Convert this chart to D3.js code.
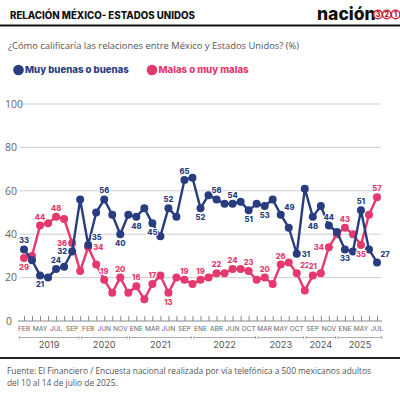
<!DOCTYPE html>
<html lang="es">
<head>
<meta charset="utf-8">
<title>Relación México - Estados Unidos</title>
<script src="https://d3js.org/d3.v7.min.js"></script>
<style>
body { margin: 0; background: #fff; }
text { font-family: Inter, "Noto Sans", sans-serif; }
</style>
</head>
<body>
<div id="chart"></div>
<script>

// month label under every second survey, blank between
var months = ["FEB","","MAY","","JUL","","SEP","","FEB","","JUN","","NOV","","ENE","","MAR","","JUN","","SEP","",
              "ENE","","ABR","","JUN","","OCT","","MAR","","MAY","","OCT","","SEP","","NOV","","ENE","","MAY","","JUL"];
var years = ["2019","2020","2021","2022","2023","2024","2025"];
var yearStart = [0, 7, 13, 21, 29, 35, 39];   // survey index where each year bracket begins
var yTicks = [0, 20, 40, 60, 80, 100];

var buenas = [33,28,21,20,24,25,32,56,35,50,56,49,40,49,48,52,45,39,52,48,65,66,52,58,56,54,54,55,51,54,
              53,56,49,43,31,61,48,53,44,41,33,32,51,33,27];
var malas  = [29,30,44,45,48,47,36,23,34,26,19,13,20,13,16,10,17,21,13,20,19,17,19,20,22,22,24,24,23,19,
              20,17,26,27,22,14,21,22,34,40,43,40,35,49,57];

// where the value label sits for each labelled (even) survey: t top, b bottom, l left, r right, tr top-right
var buenasPos = ["t","b","t","l","tr","t","b","b","b","t","t","b","t","t","b","b","tr","r","b","t","b","t","tr"];
var malasPos  = ["b","t","t","l","r","t","t","t","t","b","t","t","t","t","t","t","t","tr","t","l","t","b","t"];

var w = 400, h = 394;
var navy = "#283c80", pink = "#e5386c";

var svg = d3.select("#chart").append("svg")
  .attr("width", w).attr("height", h);

// HEADER
svg.append("text").text("RELACIÓN MÉXICO- ESTADOS UNIDOS")
  .attr("x", 10).attr("y", 18.5)
  .style("font-size", "9.7px").style("font-weight", 800).attr("fill", "#111");

svg.append("text").text("nación")
  .attr("x", 317).attr("y", 20)
  .style("font-size", "17.5px").style("font-weight", 800).attr("fill", "#111");
["3","2","1"].forEach(function(d, i) {
  var cx = 378 + i * 8.8;
  svg.append("circle").attr("cx", cx).attr("cy", 14.5).attr("r", 4.3)
    .attr("fill", "#fff").attr("stroke", "#d8213e").attr("stroke-width", 1.5);
  svg.append("text").text(d).attr("x", cx).attr("y", 17)
    .attr("text-anchor", "middle")
    .style("font-size", "7px").style("font-weight", 800).attr("fill", "#a8182f");
});

svg.append("line").attr("x1", 0).attr("x2", w).attr("y1", 25.5).attr("y2", 25.5)
  .attr("stroke", "#111").attr("stroke-width", 2);

svg.append("text").text("¿Cómo calificaría las relaciones entre México y Estados Unidos?  (%)")
  .attr("x", 8).attr("y", 49)
  .style("font-family", "'Open Sans', sans-serif")
  .style("font-size", "9.4px").attr("fill", "#555");

// LEGEND
var legend = [["Muy buenas o buenas", navy, 18.5], ["Malas o muy malas", pink, 152]];
legend.forEach(function(d) {
  svg.append("circle").attr("cx", d[2]).attr("cy", 70).attr("r", 5.3).attr("fill", d[1]);
  svg.append("text").text(d[0]).attr("x", d[2] + 6.5).attr("y", 73.4)
    .style("font-size", "9.6px").style("font-weight", 800).attr("fill", d[1]);
});

// SCALES
var x = d3.scaleLinear().domain([0, buenas.length - 1]).range([24, 377]);
var y = d3.scaleLinear().domain([0, 100]).range([321, 104]);

// GRID
var grid = svg.append("g");
grid.selectAll("line").data(yTicks.filter(function(d) { return d > 0; })).enter()
  .append("line")
  .attr("x1", 20).attr("x2", 381)
  .attr("y1", function(d) { return y(d); }).attr("y2", function(d) { return y(d); })
  .attr("stroke", "#cfcfcf").attr("stroke-width", 1);
grid.selectAll("text").data(yTicks).enter()
  .append("text").text(function(d) { return d; })
  .attr("x", function(d) { return d === 0 ? 6 : 5; })
  .attr("y", function(d) { return y(d) + 3.8; })
  .style("font-family", "'Open Sans', sans-serif")
  .style("font-size", "10.5px").attr("fill", "#666");

// X AXIS (ticks pointing up from the zero line)
var idx = d3.range(buenas.length);
var xAxis = d3.axisTop(x).tickValues(idx).tickSize(5).tickFormat("");
var gx = svg.append("g").attr("transform", "translate(0," + y(0) + ")").call(xAxis);
gx.select(".domain").attr("d", "M18,0H382").attr("stroke", "#888");
gx.selectAll(".tick line").attr("stroke", "#888");

svg.append("g").selectAll("text").data(idx.filter(function(i) { return months[i]; })).enter()
  .append("text").text(function(i) { return months[i]; })
  .attr("x", function(i) { return x(i); }).attr("y", 330.5)
  .attr("text-anchor", "middle")
  .style("font-size", "6.6px").attr("fill", "#666");

// year brackets
var bounds = yearStart.map(function(d, i) { return i === 0 ? d - 0.6 : d; }).concat([buenas.length - 1 + 0.6]);
var yb = svg.append("g");
years.forEach(function(yr, i) {
  var x0 = x(bounds[i]) + (i === 0 ? 0 : 1.2);
  var x1 = x(bounds[i + 1]) - (i === years.length - 1 ? 0 : 1.2);
  yb.append("line").attr("x1", x0).attr("x2", x1).attr("y1", 337.5).attr("y2", 337.5)
    .attr("stroke", "#999").attr("stroke-width", 0.8);
  [x0, x1].forEach(function(xx) {
    yb.append("line").attr("x1", xx).attr("x2", xx).attr("y1", 336).attr("y2", 339)
      .attr("stroke", "#999").attr("stroke-width", 0.8);
  });
  yb.append("text").text(yr).attr("x", (x0 + x1) / 2).attr("y", 347.5)
    .attr("text-anchor", "middle")
    .style("font-size", "9.2px").attr("fill", "#555");
});

// SERIES
var line = d3.line().x(function(d, i) { return x(i); }).y(function(d) { return y(d); });

function drawSeries(values, color) {
  var g = svg.append("g");
  g.append("path").datum(values).attr("d", line)
    .attr("fill", "none").attr("stroke", color).attr("stroke-width", 2.4)
    .attr("stroke-linejoin", "round");
  g.selectAll("circle").data(values).enter().append("circle")
    .attr("cx", function(d, i) { return x(i); })
    .attr("cy", function(d) { return y(d); })
    .attr("r", 4).attr("fill", color);
  return g;
}

function drawLabels(values, pos, color) {
  var g = svg.append("g");
  var lab = idx.filter(function(i) { return months[i]; });
  g.selectAll("text").data(lab).enter().append("text")
    .text(function(i) { return values[i]; })
    .attr("x", function(i, k) {
      var p = pos[k];
      if (p === "l") return x(i) - 5;
      if (p === "r") return x(i) + 5;
      if (p === "tr") return x(i) + 3.5;
      return x(i);
    })
    .attr("y", function(i, k) {
      var p = pos[k];
      if (p === "t") return y(values[i]) - 6;
      if (p === "tr") return y(values[i]) - 5;
      if (p === "b") return y(values[i]) + 12;
      return y(values[i]) + 2.8;
    })
    .attr("text-anchor", function(i, k) {
      var p = pos[k];
      return p === "l" ? "end" : (p === "r" || p === "tr") ? "start" : "middle";
    })
    .style("font-size", "7.6px").style("font-weight", 800).attr("fill", color)
    .attr("stroke", "#fff").attr("stroke-width", 2).attr("paint-order", "stroke");
}

drawSeries(malas, pink);
drawSeries(buenas, navy);
drawLabels(malas, malasPos, pink);
drawLabels(buenas, buenasPos, navy);

// FOOTER
svg.append("line").attr("x1", 0).attr("x2", w).attr("y1", 358).attr("y2", 358)
  .attr("stroke", "#222").attr("stroke-width", 2.2);
var notes = ["Fuente: El Financiero / Encuesta nacional realizada por vía telefónica a 500 mexicanos adultos",
             "del 10 al 14 de julio de 2025."];
notes.forEach(function(t, i) {
  svg.append("text").text(t).attr("x", 7).attr("y", 374 + i * 11.5)
    .style("font-family", "'Open Sans', sans-serif")
    .style("font-size", "8.4px").attr("fill", "#555");
});

</script>
</body>
</html>
